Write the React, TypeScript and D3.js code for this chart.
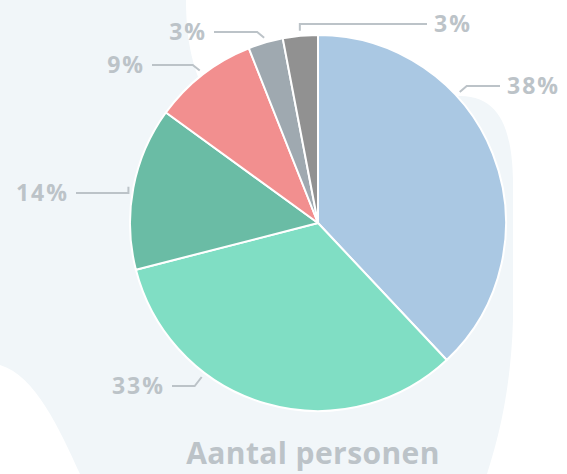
import React from 'react';
import * as d3 from 'd3';

// slices, clockwise from 12 o'clock
const categories = ['A', 'B', 'C', 'D', 'E', 'F'];
const values = [38, 33, 14, 9, 3, 3];
const labels = ['38%', '33%', '14%', '9%', '3%', '3%'];
const colors = ['#aac8e3', '#80dec4', '#6abca5', '#f28f8f', '#9fa9b0', '#919191'];
const title = 'Aantal personen';

// label placement relative to pie centre: [textX, textY, bend, side]
const labelLayout: [number, number, number, number][] = [
  [189, -137, 7, 1],
  [-153, 163, 7, -1],
  [-249, -30, 0, -1],
  [-173, -158, 7, -1],
  [-111, -191, 7, -1],
  [116, -199, 0, 1],
];

const W = 567;
const H = 474;
const cx = 318;
const cy = 223;
const R = 188;
const labelColor = '#bcc3c8';

const App = () => {
  const pie = d3.pie<number>().sort(null).value(d => d)(values);
  const arc = d3.arc<d3.PieArcDatum<number>>().innerRadius(0).outerRadius(R);

  const bg = d3.path();
  bg.moveTo(0, 0);
  bg.lineTo(186, 0);
  bg.bezierCurveTo(186, 50, 196, 80, 215, 110);
  bg.lineTo(460, 96);
  bg.bezierCurveTo(500, 96, 512, 130, 513, 180);
  bg.lineTo(513, 320);
  bg.bezierCurveTo(511, 390, 498, 440, 487, H);
  bg.lineTo(80, H);
  bg.bezierCurveTo(60, 430, 35, 375, 0, 365);
  bg.closePath();

  return (
    <svg width={W} height={H} style={{ position: 'absolute', left: 0, top: 0 }}>
      <rect width={W} height={H} fill="#ffffff" />
      <path d={bg.toString()} fill="#f1f6f9" />
      <g transform={`translate(${cx},${cy})`}>
        {pie.map((p, i) => (
          <path key={categories[i]} d={arc(p) || ''} fill={colors[i]} stroke="#ffffff" strokeWidth={2} strokeLinejoin="round" />
        ))}
        {pie.map((p, i) => {
          const [tx, ty, bend, side] = labelLayout[i];
          const mid = (p.startAngle + p.endAngle) / 2;
          let ax = Math.sin(mid) * (R + 5);
          let ay = -Math.cos(mid) * (R + 5);
          if (Math.abs(ay - ty) > 12) {
            // slide anchor along the rim towards the label row
            ay = ty + (ty < 0 ? 6 : -9);
            ax = side * Math.sqrt((R + 5) ** 2 - ay * ay);
          }
          const bx = ax + side * bend;
          const ex = tx - side * 7;
          const d = `M${ax},${ay}L${bx},${ty}L${ex},${ty}`;
          return (
            <g key={'l' + i}>
              <path d={d} fill="none" stroke={labelColor} strokeWidth={2} />
              <text
                x={tx}
                y={ty}
                dy="0.36em"
                textAnchor={side > 0 ? 'start' : 'end'}
                fill={labelColor}
                fontFamily="'Open Sans', sans-serif"
                fontWeight={700}
                fontSize={23}
                letterSpacing={2}
              >
                {labels[i]}
              </text>
            </g>
          );
        })}
      </g>
      <text
        x={cx - 5}
        y={464}
        textAnchor="middle"
        fill={labelColor}
        fontFamily="'Open Sans', sans-serif"
        fontWeight={700}
        fontSize={30}
        letterSpacing={0.4}
      >
        {title}
      </text>
    </svg>
  );
};

export default App;
